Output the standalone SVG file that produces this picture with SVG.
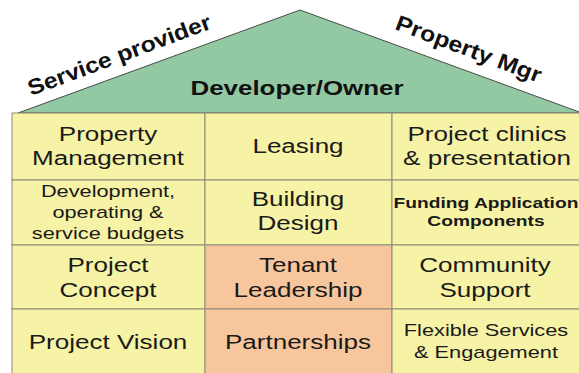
<svg xmlns="http://www.w3.org/2000/svg" width="579" height="373" viewBox="0 0 579 373">
<style>
.cell{fill:#f6f2a6;stroke:#8a8a7a;stroke-width:1}
.hot{fill:#f7c69c;stroke:#8a8a7a;stroke-width:1}
.t{font-family:"Liberation Sans",Arial,sans-serif;font-size:21px;fill:#1a1a1a;text-anchor:middle}
.s{font-size:17px}
.b{font-weight:bold}
.roof{font-family:"Liberation Sans",Arial,sans-serif;font-weight:bold;font-size:22px;fill:#111}
</style>
<rect width="579" height="373" fill="#ffffff"/>
<g id="roof">
<polygon points="18,113 300,10 582,113" fill="#93c9a2" stroke="#4a4a4a" stroke-width="1"/>
<text class="roof" x="297" y="95" text-anchor="middle" style="font-size:20px" textLength="213" lengthAdjust="spacingAndGlyphs">Developer/Owner</text>
</g>
<g id="label-service">
<text class="roof" transform="translate(31,96) rotate(-20.5)" textLength="194" lengthAdjust="spacingAndGlyphs">Service provider</text>
</g>
<g id="label-pm">
<text class="roof" transform="translate(394,29) rotate(20.5)" textLength="154" lengthAdjust="spacingAndGlyphs">Property Mgr</text>
</g>
<g id="cells">
<rect class="cell" x="12" y="113" width="193" height="67"/>
<rect class="cell" x="205" y="113" width="187" height="67"/>
<rect class="cell" x="392" y="113" width="200" height="67"/>
<rect class="cell" x="12" y="180" width="193" height="65"/>
<rect class="cell" x="205" y="180" width="187" height="65"/>
<rect class="cell" x="392" y="180" width="200" height="65"/>
<rect class="cell" x="12" y="245" width="193" height="64"/>
<rect class="hot" x="205" y="245" width="187" height="64"/>
<rect class="cell" x="392" y="245" width="200" height="64"/>
<rect class="cell" x="12" y="309" width="193" height="70"/>
<rect class="hot" x="205" y="309" width="187" height="70"/>
<rect class="cell" x="392" y="309" width="200" height="70"/>
</g>
<g id="property-management" transform="translate(108,0) scale(1.24,1)"><text class="t" x="0" y="141">Property</text><text class="t" x="0" y="165">Management</text></g>
<g id="leasing" transform="translate(298,0) scale(1.24,1)"><text class="t" x="0" y="153">Leasing</text></g>
<g id="project-clinics" transform="translate(487,0) scale(1.24,1)"><text class="t" x="0" y="141">Project clinics</text><text class="t" x="0" y="165">&amp; presentation</text></g>
<g id="budgets" transform="translate(108,0) scale(1.28,1)"><text class="t s" x="0" y="197">Development,</text><text class="t s" x="0" y="218">operating &amp;</text><text class="t s" x="0" y="239">service budgets</text></g>
<g id="building-design" transform="translate(298,0) scale(1.24,1)"><text class="t" x="0" y="206">Building</text><text class="t" x="0" y="230">Design</text></g>
<g id="funding" transform="translate(486,0) scale(1.28,1)"><text class="t b" style="font-size:15px" x="0" y="208">Funding Application</text><text class="t b" style="font-size:15px" x="0" y="226">Components</text></g>
<g id="project-concept" transform="translate(108,0) scale(1.24,1)"><text class="t" x="0" y="272">Project</text><text class="t" x="0" y="297">Concept</text></g>
<g id="tenant-leadership" transform="translate(298,0) scale(1.24,1)"><text class="t" x="0" y="272">Tenant</text><text class="t" x="0" y="297">Leadership</text></g>
<g id="community-support" transform="translate(485,0) scale(1.24,1)"><text class="t" x="0" y="272">Community</text><text class="t" x="0" y="297">Support</text></g>
<g id="project-vision" transform="translate(108,0) scale(1.24,1)"><text class="t" x="0" y="349">Project Vision</text></g>
<g id="partnerships" transform="translate(298,0) scale(1.24,1)"><text class="t" x="0" y="349">Partnerships</text></g>
<g id="flexible" transform="translate(486,0) scale(1.28,1)"><text class="t s" x="0" y="336">Flexible Services</text><text class="t s" x="0" y="358">&amp; Engagement</text></g>
</svg>
